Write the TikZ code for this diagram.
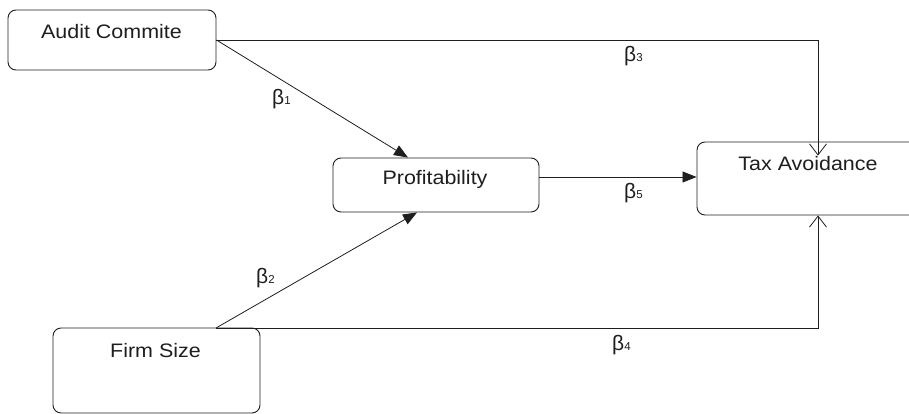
\documentclass[tikz,border=0pt]{standalone}
\usepackage{fontspec}
\setmainfont{Liberation Sans}[FakeStretch=1.1]
\newfontfamily\betafont{Liberation Sans}
\usetikzlibrary{arrows.meta}
\definecolor{ink}{RGB}{30,30,30}
\tikzset{
  box/.style={draw=ink, rounded corners=8pt, inner sep=0pt, line width=0.9pt},
  lbl/.style={inner sep=0pt, anchor=base, text=ink, font=\fontsize{19.5}{22}\selectfont},
  coef/.style={inner sep=0pt, anchor=base west, text=ink},
  conn/.style={draw=ink, line width=0.8pt},
  solidtip/.style={conn, -{Triangle[length=14pt,width=11pt]}},
  opentip/.style={conn, -{Straight Barb[length=11pt,width=17pt,line width=0.8pt]}}
}
\newcommand{\bcoef}[1]{{\betafont\fontsize{21}{24}\selectfont β\fontsize{11.5}{13}\selectfont #1}}
\begin{document}
\begin{tikzpicture}[x=1pt,y=-1pt]
\useasboundingbox (0,0) rectangle (909,414);
% boxes
\node[box, minimum width=208pt, minimum height=60pt] (ac) at (112,40) {};
\node[box, minimum width=206pt, minimum height=54pt] (pf) at (436,185) {};
\node[box, minimum width=223pt, minimum height=73pt] (tx) at (808.5,178.5) {};
\node[box, minimum width=207pt, minimum height=85pt] (fs) at (156.5,370.5) {};
% texts
\node[lbl] (tac) at (111.5,39) {Audit Commite};
\node[lbl] (tpf) at (435,184) {Profitability};
\node[lbl] (ttx) at (808,170.5) {Tax Avoidance};
\node[lbl] (tfs) at (155.5,357) {Firm Size};
% connectors
\coordinate (fsout) at (216,328);
\draw[solidtip] (ac.east) -- ([xshift=-28pt]pf.north);
\draw[opentip, shorten >=-14pt] (ac.east) -| ([xshift=9.5pt]tx.north);
\draw[solidtip] ([yshift=8pt]pf.east) -- ([yshift=8pt]pf.east -| tx.west);
\draw[solidtip] (fsout) -- ([xshift=-19pt]pf.south);
\draw[opentip] (fsout) -| ([xshift=9.5pt]tx.south);
% coefficients
\node[coef] (b1) at (272,105) {\bcoef{1}};
\node[coef] (b2) at (256,283) {\bcoef{2}};
\node[coef] (b3) at (624,62) {\bcoef{3}};
\node[coef] (b4) at (612,350) {\bcoef{4}};
\node[coef] (b5) at (624,198) {\bcoef{5}};
\end{tikzpicture}
\end{document}
